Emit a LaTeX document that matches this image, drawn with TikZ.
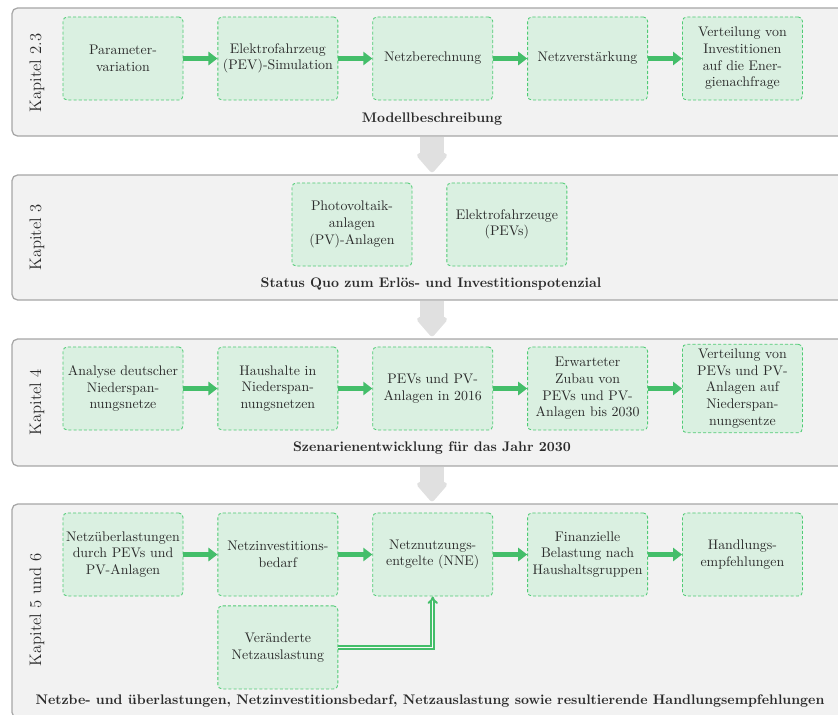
\documentclass[tikz,border=0pt]{standalone}
\usetikzlibrary{positioning, arrows.meta}

\definecolor{boxfill}{HTML}{DAF0E1}
\definecolor{boxline}{HTML}{4FCB74}
\definecolor{arrowgreen}{HTML}{44BE6A}
\definecolor{panelfill}{HTML}{F2F2F2}
\definecolor{panelline}{HTML}{A6A6A6}
\definecolor{arrowgray}{HTML}{E0E0E0}
\definecolor{textgray}{HTML}{2B2B2B}

\begin{document}
\begin{tikzpicture}[x=0.72pt, y=-0.72pt, node distance=24.5pt, text=textgray,
    stage node/.style={draw=boxline, dash pattern=on 2.2pt off 1.5pt, line width=0.6pt,
        fill=boxfill, rounded corners=3pt,
        text width=82pt, inner xsep=2.2pt, minimum height=59.8pt, align=center},
    panel node/.style={draw=panelline, fill=panelfill, rounded corners=4pt,
        line width=0.9pt, minimum width=604.8pt},
    chapter node/.style={rotate=90, font=\large},
    title node/.style={font=\bfseries},
    flow/.style={draw=arrowgreen, line width=4.3pt, -{Triangle[length=6.5pt,width=9.5pt]}},
    merge/.style={draw=arrowgreen, double=white!60!panelfill, line width=1.4pt,
        double distance=0.9pt, -Implies},
    bigarrow/.style={draw=arrowgray, line width=17pt,
        -{Triangle[length=15pt,width=25pt,round]}, shorten >=1.5pt, shorten <=0.6pt}]
    \clip (0,0) rectangle (838,715);

    % panels
    \node[panel node, minimum height=92.2pt] (p1) at (432,72)    {};
    \node[panel node, minimum height=90pt]   (p2) at (432,237.5) {};
    \node[panel node, minimum height=91.4pt] (p3) at (432,402.5) {};
    \node[panel node, minimum height=154pt]  (p4) at (432,611)   {};

    \draw[bigarrow] (p1.south) -- (p2.north);
    \draw[bigarrow] (p2.south) -- (p3.north);
    \draw[bigarrow] (p3.south) -- (p4.north);

    \node[chapter node] (k1) at (37,73)    {Kapitel 2.3};
    \node[chapter node] (k2) at (37,237.5) {Kapitel 3};
    \node[chapter node] (k3) at (37,402)   {Kapitel 4};
    \node[chapter node] (k4) at (37,610)   {Kapitel 5 und 6};

    % Kapitel 2.3
    \node[stage node] (a1) at (123,58.5) {Parameter-\\variation};
    \node[stage node] (a2) [right=of a1] {Elektrofahrzeug\\(PEV)-Simulation};
    \node[stage node] (a3) [right=of a2] {Netzberechnung};
    \node[stage node] (a4) [right=of a3] {Netzverstärkung};
    \node[stage node] (a5) [right=of a4] {Verteilung von\\Investitionen\\auf die Ener-\\gienachfrage};
    \node[title node] (t1) at (432,119) {Modellbeschreibung};

    % Kapitel 3
    \node[stage node] (b1) at (352,224.5) {Photovoltaik-\\anlagen\\(PV)-Anlagen};
    \node[stage node] (b2) [right=of b1] {Elektrofahrzeuge\\(PEVs)};
    \node[title node] (t2) at (431,284) {Status Quo zum Erlös- und Investitionspotenzial};

    % Kapitel 4
    \node[stage node] (c1) at (123,388.5) {Analyse deutscher\\Niederspan-\\nungsnetze};
    \node[stage node] (c2) [right=of c1] {Haushalte in\\Niederspan-\\nungsnetzen};
    \node[stage node] (c3) [right=of c2] {PEVs und PV-\\Anlagen in 2016};
    \node[stage node] (c4) [right=of c3] {Erwarteter\\Zubau von\\PEVs und PV-\\Anlagen bis 2030};
    \node[stage node] (c5) [right=of c4] {Verteilung von\\PEVs und PV-\\Anlagen auf\\Niederspan-\\nungsentze};
    \node[title node] (t3) at (432,448) {Szenarienentwicklung für das Jahr 2030};

    % Kapitel 5 und 6
    \node[stage node] (d1) at (123,554.5) {Netzüberlastungen\\durch PEVs und\\PV-Anlagen};
    \node[stage node] (d2) [right=of d1] {Netzinvestitions-\\bedarf};
    \node[stage node] (d3) [right=of d2] {Netznutzungs-\\entgelte (NNE)};
    \node[stage node] (d4) [right=of d3] {Finanzielle\\Belastung nach\\Haushaltsgruppen};
    \node[stage node] (d5) [right=of d4] {Handlungs-\\empfehlungen};
    \node[stage node] (e1) [below=6.5pt of d2] {Veränderte\\Netzauslastung};
    \node[title node] (t4) at (430,701) {Netzbe- und überlastungen, Netzinvestitionsbedarf, Netzauslastung sowie resultierende Handlungsempfehlungen};

    \foreach \row in {a,c,d} {
        \foreach \i/\j in {1/2,2/3,3/4,4/5}
            \draw[flow] (\row\i.east) -- (\row\j.west);
    }
    \draw[merge] (e1.east) -| (d3.south);
\end{tikzpicture}
\end{document}
